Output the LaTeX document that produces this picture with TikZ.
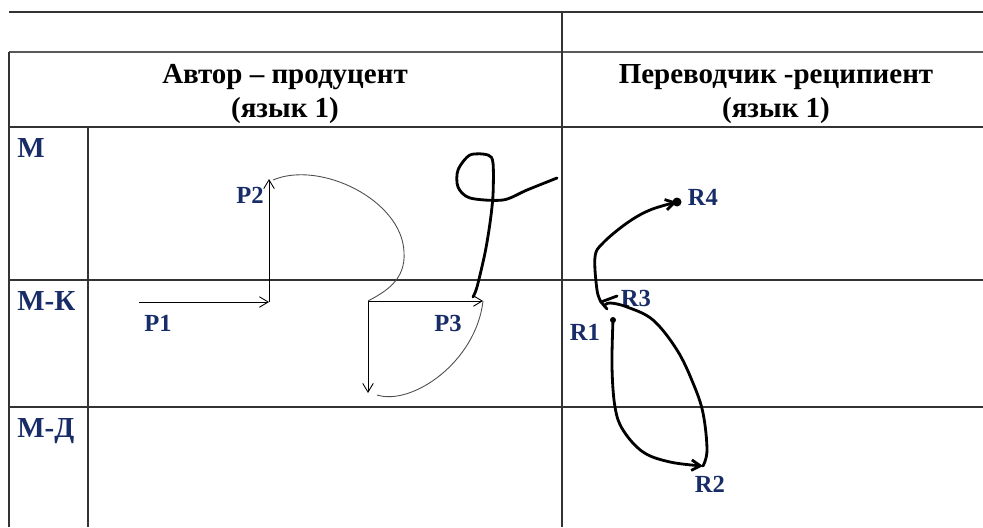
\documentclass[tikz,border=0pt]{standalone}
\usepackage{fontspec}
\setmainfont{Liberation Serif}
\usetikzlibrary{arrows.meta}
\definecolor{navy}{RGB}{24,44,104}
\begin{document}
\begin{tikzpicture}[x=0.02cm,y=-0.02cm,
    grid/.style={draw=black!80, line width=0.7pt},
    hdr/.style={font=\fontsize{16.5}{19.5}\selectfont\bfseries, align=center},
    lvl/.style={text=navy, font=\fontsize{14}{16}\selectfont\bfseries, inner sep=0pt},
    row/.style={lvl, font=\fontsize{16.5}{18}\selectfont\bfseries, anchor=north west},
    fine/.style={line width=0.5pt},
    pen/.style={line width=1.6pt, line cap=round, line join=round},
    >={Straight Barb[length=5pt,width=6pt]}]
    \useasboundingbox (0,0) rectangle (983,527);
    % table
    \draw[grid] (9,12) -- (983,12);
    \draw[grid, black!65, line width=1pt] (9,52) -- (983,52);
    \draw[grid] (9,127) -- (983,127);
    \draw[grid] (9,280) -- (983,280);
    \draw[grid] (9,407) -- (983,407);
    \draw[grid] (9,52) -- (9,527);
    \draw[grid] (88,127) -- (88,527);
    \draw[grid] (562,12) -- (562,527);
    \node[hdr] (author) at (285,94) {Автор – продуцент\\(язык 1)};
    \node[hdr] (transl) at (776,94) {Переводчик -реципиент\\(язык 1)};
    \node[row] (m) at (17,138) {М};
    \node[row] (mk) at (17,291) {М-К};
    \node[row] (md) at (17,418) {М-Д};
    % producer
    \coordinate (p1s) at (139,302);
    \coordinate (p1e) at (269,302);
    \coordinate (p2e) at (269,179);
    \coordinate (p3s) at (368,301);
    \coordinate (p3e) at (483,301);
    \coordinate (p4e) at (368,393);
    \node[lvl] (P1) at (158,323) {P1};
    \node[lvl] (P2) at (250,195) {P2};
    \node[lvl] (P3) at (448,323) {P3};
    \draw[fine,->] (p1s) -- (p1e);
    \draw[fine,->] (p1e) -- (p2e);
    \draw[fine,->] (p3s) -- (p3e);
    \draw[fine,->] (p3s) -- (p4e);
    \draw[fine,black!70] (273,180) .. controls (320,160) and (402,200) .. (404,252)
        .. controls (406,280) and (385,292) .. (p3s);
    \draw[fine,black!70] (377,395) .. controls (412,406) and (476,362) .. (p3e);
    \draw[pen] plot[smooth,tension=0.5] coordinates {(473,297) (477,287) (485,253)
        (490,223) (493,195) (493,163) (488,155) (470,155) (458,170) (458,187)
        (470,198) (503,200) (527,190) (557,178)};
    % recipient
    \node[lvl] (R1) at (585,332) {R1};
    \node[lvl] (R2) at (710,484) {R2};
    \node[lvl] (R3) at (636,298) {R3};
    \node[lvl] (R4) at (703,197) {R4};
    \coordinate (r1) at (613,320);
    \coordinate (r2) at (703,466);
    \coordinate (r3) at (601,302);
    \coordinate (r4) at (677,202);
    \fill (r1) circle (3);
    \fill (r4) circle (4.5);
    \draw[pen,->] plot[smooth,tension=0.6] coordinates {(r1) (612,367) (615,407)
        (623,430) (643,452) (670,462) (r2)};
    \draw[pen] plot[smooth,tension=0.6] coordinates {(r2) (707,450) (703,413)
        (693,383) (677,350) (653,320) (627,307) (610,303) (604,306)};
    \draw[pen] (617,296) -- (r3) -- (607,309);
    \draw[pen,->] plot[smooth,tension=0.6] coordinates {(r3) (597,290) (595,257)
        (603,243) (627,223) (650,210) (r4)};
\end{tikzpicture}
\end{document}
